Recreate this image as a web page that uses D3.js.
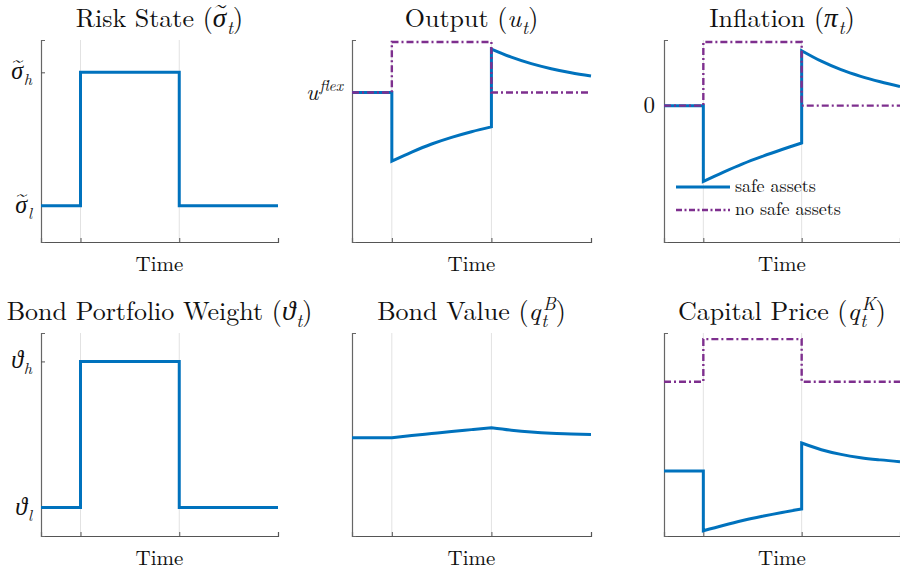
<!DOCTYPE html>
<meta charset="utf-8">
<script src="https://d3js.org/d3.v7.min.js"></script>
<style>
  body { margin: 0; background: #fff; }
</style>
<div id="chart"></div>
<script>

// time grid (shock hits at t=10, ends at t=35)
const tPre = [0, 10];
const tShock = [10, 15, 20, 25, 30, 35];
const tPost = [35, 40, 45, 50, 55, 60];
const tSteps = [[0, 10], [10, 35], [35, 60]];
const shockTimes = [10, 35];

// values on a 0-100 index scale
const riskState = [[18, 18], [84, 84], [18, 18]];
const outputSafe = [[74, 74], [40, 44.5, 48.5, 51.8, 54.6, 57], [95.5, 91.5, 88.3, 85.8, 83.8, 82.2]];
const outputNoSafe = [[74, 74], [99, 99], [74, 74]];
const inflationSafe = [[67.5, 67.5], [30, 34.5, 38.7, 42.4, 45.8, 49], [94.7, 89.5, 85.3, 82, 79.3, 77]];
const inflationNoSafe = [[67.5, 67.5], [99, 99], [67.5, 67.5]];
const bondWeight = [[14, 14], [86, 86], [14, 14]];
const bondValue = [[48.4, 48.4], [48.4, 49.5, 50.5, 51.5, 52.4, 53.3], [53.3, 52.1, 51.2, 50.6, 50.3, 50]];
const capitalSafe = [[32, 32], [2.6, 5.2, 7.6, 9.7, 11.6, 13.3], [45.8, 42.5, 40.2, 38.6, 37.5, 36.6]];
const capitalNoSafe = [[76, 76], [97, 97], [76, 76]];

const tSmooth = [tPre, tShock, tPost];

const blue = "#0072BD", purple = "#7E2F8E";
const FONT = "'Latin Modern Roman', 'CMU Serif', 'Liberation Serif', serif";
const GREEK = "'Liberation Serif', serif";

const W = 900, H = 567;
const cols = [[41, 278], [352, 591], [664, 900]];
const rows = [[40, 242], [333, 536]];

const svg = d3.select("#chart").append("svg")
    .attr("width", W).attr("height", H);

// text pieces: [string, kind, tilde?]
const panels = [
  { r: 0, c: 0, title: [["Risk State (", "rm"], ["σ", "gr", true], ["t", "sub"], [")", "rm"]],
    yticks: [[84, [["σ", "gr", true], ["h", "sub"]]], [18, [["σ", "gr", true], ["l", "sub"]]]],
    series: [{ v: riskState, t: tSteps, color: blue }] },
  { r: 0, c: 1, title: [["Output (", "rm"], ["u", "it"], ["t", "sub"], [")", "rm"]],
    yticks: [[74, [["u", "it"], ["flex", "sup"]]]],
    series: [{ v: outputSafe, t: tSmooth, color: blue }, { v: outputNoSafe, t: tSteps, color: purple, dash: true }] },
  { r: 0, c: 2, title: [["Inflation (", "rm"], ["π", "gr"], ["t", "sub"], [")", "rm"]],
    yticks: [[67.5, [["0", "rm"]]]],
    series: [{ v: inflationSafe, t: tSmooth, color: blue }, { v: inflationNoSafe, t: tSteps, color: purple, dash: true }],
    legend: true },
  { r: 1, c: 0, title: [["Bond Portfolio Weight (", "rm"], ["ϑ", "gr"], ["t", "sub"], [")", "rm"]],
    yticks: [[86, [["ϑ", "gr"], ["h", "sub"]]], [14, [["ϑ", "gr"], ["l", "sub"]]]],
    series: [{ v: bondWeight, t: tSteps, color: blue }] },
  { r: 1, c: 1, title: [["Bond Value (", "rm"], ["q", "it"], ["t", "sub"], ["B", "supback"], [")", "rm"]],
    yticks: [],
    series: [{ v: bondValue, t: tSmooth, color: blue }] },
  { r: 1, c: 2, title: [["Capital Price (", "rm"], ["q", "it"], ["t", "sub"], ["K", "supback"], [")", "rm"]],
    yticks: [],
    series: [{ v: capitalSafe, t: tSmooth, color: blue }, { v: capitalNoSafe, t: tSteps, color: purple, dash: true }] }
];

// baseline rise (in em) for each kind
const rise = { rm: 0, it: 0, gr: 0, sub: -0.26, sup: 0.36, supback: 0.38 };

// write math-ish text as tspans, tildes drawn on top afterwards
function richText(parent, x, y, anchor, pieces, size) {
  const t = parent.append("text")
      .attr("x", x).attr("y", y)
      .attr("text-anchor", anchor)
      .attr("font-family", FONT)
      .attr("font-size", size)
      .attr("fill", "#111");
  let prev = 0, idx = 0;
  const tildes = [];
  pieces.forEach(function(p) {
    const kind = p[1];
    const r = rise[kind];
    const ts = t.append("tspan").text(p[0]).attr("dy", (prev - r) * size);
    if (kind !== "rm") ts.attr("font-style", "italic");
    if (kind === "gr") ts.attr("font-family", GREEK).attr("font-size", size * 1.05);
    if (kind === "sub" || kind === "supback") ts.attr("font-size", size * 0.7);
    if (kind === "sup") ts.attr("font-size", size * 0.68).attr("dx", size * 0.04);
    if (kind === "sub") ts.attr("dx", size * 0.03);
    if (kind === "supback") ts.attr("dx", -size * 0.17);
    if (p[2]) tildes.push(idx);
    idx += p[0].length;
    prev = r;
  });
  tildes.forEach(function(i) {
    const box = t.node().getExtentOfChar(i);
    parent.append("text")
        .attr("x", box.x + box.width * 0.58)
        .attr("y", y - size * 0.56)
        .attr("text-anchor", "middle")
        .attr("font-family", FONT)
        .attr("font-size", size * 0.8)
        .attr("fill", "#111")
        .text("~");
  });
  return t;
}

panels.forEach(function(p) {
  const [x0, x1] = cols[p.c];
  const [yTop, yBot] = rows[p.r];

  const x = d3.scaleLinear().domain([0, 60]).range([x0, x1]);
  const y = d3.scaleLinear().domain([0, 100]).range([yBot, yTop]);

  const g = svg.append("g");

  // vertical grid at shock dates
  g.selectAll(".grid").data(shockTimes).join("line")
      .attr("x1", d => x(d)).attr("x2", d => x(d))
      .attr("y1", yTop).attr("y2", yBot)
      .attr("stroke", "#e2e2e2").attr("stroke-width", 1);

  // axes
  const xAxis = d3.axisBottom(x).tickValues(shockTimes).tickSize(-4).tickFormat("");
  g.append("g").attr("transform", `translate(0,${yBot})`).call(xAxis)
      .call(a => a.select(".domain").attr("stroke", "#555").attr("stroke-width", 1.2))
      .call(a => a.selectAll(".tick line").attr("stroke", "#555"));

  const yAxis = d3.axisLeft(y).tickValues(p.yticks.map(d => d[0])).tickSize(-4).tickFormat("");
  g.append("g").attr("transform", `translate(${x0},0)`).call(yAxis)
      .call(a => a.select(".domain").attr("stroke", "#666").attr("stroke-width", 1.2))
      .call(a => a.selectAll(".tick line").attr("stroke", "#555"));

  p.yticks.forEach(function(tk) {
    richText(g, x0 - 9, y(tk[0]) + 7, "end", tk[1], 23);
  });

  // series
  p.series.forEach(function(s) {
    const line = d3.line().x(d => x(d[0])).y(d => y(d[1])).curve(d3.curveMonotoneX);
    let dStr = "";
    s.v.forEach(function(piece, i) {
      const pts = piece.map((v, j) => [s.t[i][j], v]);
      const seg = line(pts);
      dStr += i === 0 ? seg : seg.replace(/^M/, "L");
    });
    g.append("path")
        .attr("d", dStr)
        .attr("fill", "none")
        .attr("stroke", s.color)
        .attr("stroke-width", s.dash ? 2.4 : 3)
        .attr("stroke-dasharray", s.dash ? "7,3,2,3" : null);
  });

  // title
  richText(g, (x0 + x1) / 2, yTop - 13, "middle", p.title, 26);

  // x label
  g.append("text")
      .attr("x", (x0 + x1) / 2).attr("y", yBot + 29)
      .attr("text-anchor", "middle")
      .attr("font-family", FONT)
      .attr("font-size", 21)
      .attr("fill", "#111")
      .text("Time");

  if (p.legend) {
    const items = [["safe assets", blue, false], ["no safe assets", purple, true]];
    items.forEach(function(it, i) {
      const ly = 187 + i * 23;
      g.append("line")
          .attr("x1", 676).attr("x2", 730).attr("y1", ly).attr("y2", ly)
          .attr("stroke", it[1]).attr("stroke-width", it[2] ? 2.4 : 3)
          .attr("stroke-dasharray", it[2] ? "6,2.5,2,2.5" : null);
      g.append("text")
          .attr("x", 735).attr("y", ly + 5)
          .attr("font-family", FONT)
          .attr("font-size", 18)
          .attr("fill", "#111")
          .text(it[0]);
    });
  }
});

</script>
